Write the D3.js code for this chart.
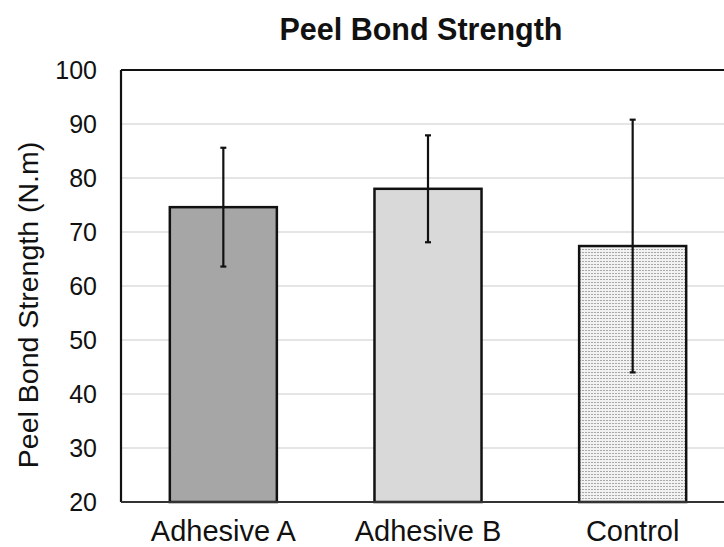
<!DOCTYPE html>
<html>
<head>
<meta charset="utf-8">
<script src="https://cdn.jsdelivr.net/npm/d3@7"></script>
<style>
  html, body { margin: 0; padding: 0; background: #fff; }
  svg { display: block; font-family: "Liberation Sans", Arial, sans-serif; }
</style>
</head>
<body>
<svg id="chart" width="724" height="547"></svg>
<script>
// Peel bond strength per adhesive, mean with ± error
const categories = ["Adhesive A", "Adhesive B", "Control"];
const means = [74.6, 78.0, 67.4];
const errors = [11.0, 9.9, 23.4];
const yTicks = [20, 30, 40, 50, 60, 70, 80, 90, 100];

const svg = d3.select("#chart");
const margin = { left: 121, top: 70, right: -11, bottom: 45 };
const W = 724, H = 547;
const x0 = margin.left, x1 = W - margin.right;
const yTop = margin.top, yBot = H - margin.bottom;

const x = d3.scaleBand().domain(categories).range([x0, x1]).paddingInner(0.477).paddingOuter(0.2385);
const y = d3.scaleLinear().domain([20, 100]).range([yBot, yTop]);

// dotted fill for the control bar
const defs = svg.append("defs");
const pat = defs.append("pattern").attr("id", "dots")
  .attr("width", 3).attr("height", 3).attr("patternUnits", "userSpaceOnUse");
pat.append("rect").attr("width", 3).attr("height", 3).attr("fill", "#f2f2f2");
pat.append("rect").attr("x", 0).attr("y", 0).attr("width", 2).attr("height", 1).attr("fill", "#a8a8a8");

const fills = ["#a6a6a6", "#d9d9d9", "url(#dots)"];

// gridlines
svg.append("g")
  .selectAll("line").data(yTicks.filter(t => t > 20 && t < 100)).join("line")
  .attr("x1", x0).attr("x2", W)
  .attr("y1", d => y(d)).attr("y2", d => y(d))
  .attr("stroke", "#dcdcdc").attr("stroke-width", 1.3);

// y tick labels
const yAxis = d3.axisLeft(y).tickValues(yTicks).tickSize(0).tickPadding(24);
const ya = svg.append("g").attr("transform", `translate(${x0},0)`).call(yAxis);
ya.select(".domain").remove();
ya.selectAll("text").attr("font-size", 25).attr("fill", "#111")
  .attr("font-family", "'Liberation Sans', Arial, sans-serif");

// bars
svg.append("g").selectAll("rect").data(categories).join("rect")
  .attr("x", d => x(d)).attr("width", x.bandwidth())
  .attr("y", (d, i) => y(means[i]))
  .attr("height", (d, i) => y(20) - y(means[i]))
  .attr("fill", (d, i) => fills[i])
  .attr("stroke", "#111").attr("stroke-width", 2.5);

// error bars
const eb = svg.append("g").attr("stroke", "#111").attr("stroke-width", 2.2);
categories.forEach((c, i) => {
  const cx = x(c) + x.bandwidth() / 2;
  const hi = y(means[i] + errors[i]), lo = y(means[i] - errors[i]);
  eb.append("line").attr("x1", cx).attr("x2", cx).attr("y1", hi).attr("y2", lo);
  eb.append("line").attr("x1", cx - 3).attr("x2", cx + 3).attr("y1", hi).attr("y2", hi);
  eb.append("line").attr("x1", cx - 3).attr("x2", cx + 3).attr("y1", lo).attr("y2", lo);
});

// plot frame
const frame = svg.append("g").attr("stroke", "#111").attr("stroke-width", 2.2).attr("fill", "none");
frame.append("line").attr("x1", x0).attr("x2", W).attr("y1", yTop).attr("y2", yTop);
frame.append("line").attr("x1", x0).attr("x2", x0).attr("y1", yTop).attr("y2", yBot);
frame.append("line").attr("x1", x0).attr("x2", W).attr("y1", yBot).attr("y2", yBot).attr("stroke", "#333");

// category labels
const xAxis = d3.axisBottom(x).tickSize(0).tickPadding(0);
const xa = svg.append("g").attr("transform", `translate(0,${yBot})`).call(xAxis);
xa.select(".domain").remove();
xa.selectAll("text").attr("font-size", 29).attr("fill", "#111")
  .attr("dy", null).attr("y", 39)
  .attr("font-family", "'Liberation Sans', Arial, sans-serif");

// title
svg.append("text").attr("x", 421).attr("y", 40).attr("text-anchor", "middle")
  .attr("font-size", 30.5).attr("font-weight", "bold").attr("fill", "#111")
  .text("Peel Bond Strength");

// y axis label
svg.append("text")
  .attr("transform", `translate(38,305) rotate(-90)`)
  .attr("text-anchor", "middle").attr("font-size", 28.5).attr("fill", "#111")
  .text("Peel Bond Strength (N.m)");
</script>
</body>
</html>
